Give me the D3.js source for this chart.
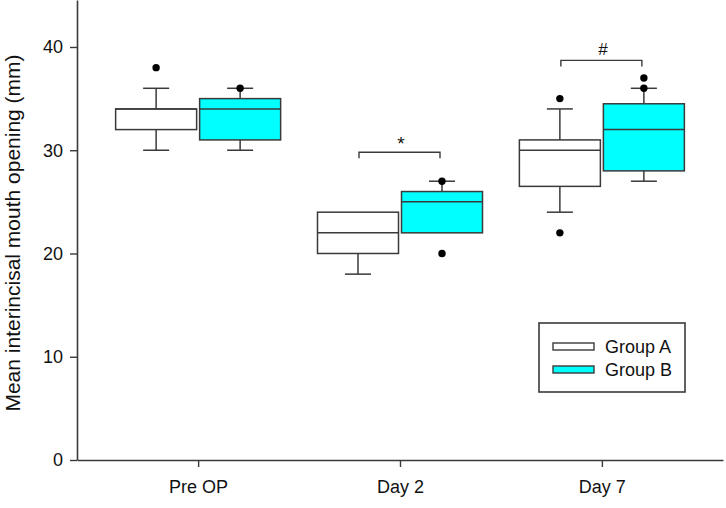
<!DOCTYPE html>
<html>
<head>
<meta charset="utf-8">
<script src="https://cdn.jsdelivr.net/npm/d3@7"></script>
<style>
  body { margin: 0; background: #fff; }
  svg { display: block; font-family: Arial, "Liberation Sans", sans-serif; }
</style>
</head>
<body>
<div id="chart"></div>
<script>
// data
var categories = ["Pre OP", "Day 2", "Day 7"];
var groups = ["Group A", "Group B"];
var groupColors = ["#ffffff", "#00ffff"];
var yTicks = [0, 10, 20, 30, 40];

// per category: [whisker low, q1, median, q3, whisker high]
var groupA = [[30, 32, 34, 34, 36], [18, 20, 22, 24, 24], [24, 26.5, 30, 31, 34]];
var groupB = [[30, 31, 34, 35, 36], [22, 22, 25, 26, 27], [27, 28, 32, 34.5, 36]];
var outliersA = [[38], [], [22, 35]];
var outliersB = [[36], [20, 27], [36, 37]];

// significance brackets
var sigCategory = ["Day 2", "Day 7"];
var sigLevel = [29.8, 38.7];
var sigMark = ["*", "#"];

var svgWidth = 726, svgHeight = 508;
var margin = { top: 0, right: 3, bottom: 48, left: 77 };
var width = svgWidth - margin.left - margin.right;
var height = svgHeight - margin.top - margin.bottom;
var ink = "#3a3a3a";

var svg = d3.select("#chart").append("svg")
  .attr("width", svgWidth)
  .attr("height", svgHeight);

var g = svg.append("g")
  .attr("transform", `translate(${margin.left}, ${margin.top})`);

var xScale = d3.scalePoint()
  .domain(categories)
  .range([0, width])
  .padding(0.6);

var yScale = d3.scaleLinear()
  .domain([0, 44.55])
  .range([height, 0]);

// axes
var xAxis = g.append("g")
  .attr("transform", `translate(0, ${height})`)
  .call(d3.axisBottom(xScale).tickSize(7).tickSizeOuter(0).tickPadding(13));

var yAxis = g.append("g")
  .call(d3.axisLeft(yScale).tickValues(yTicks).tickSize(7).tickSizeOuter(0).tickPadding(7));

[xAxis, yAxis].forEach(function(ax) {
  ax.select(".domain").attr("stroke", ink).attr("stroke-width", 1.6);
  ax.selectAll(".tick line").attr("stroke", ink).attr("stroke-width", 1.4);
  ax.selectAll(".tick text").attr("fill", "#111").attr("font-size", "18px")
    .attr("font-family", "Arial, 'Liberation Sans', sans-serif");
});

// y axis title
svg.append("text")
  .attr("transform", `translate(20, ${margin.top + height / 2 + 3}) rotate(-90)`)
  .attr("text-anchor", "middle")
  .attr("font-size", "21px")
  .attr("fill", "#111")
  .text("Mean interincisal mouth opening (mm)");

// boxes
var boxW = 81, offset = 42, capHalf = 13;
var boxData = [];
categories.forEach(function(c, i) {
  boxData.push({ cat: c, grp: 0, s: groupA[i], out: outliersA[i] });
  boxData.push({ cat: c, grp: 1, s: groupB[i], out: outliersB[i] });
});

var boxes = g.selectAll(".box")
  .data(boxData)
  .enter()
  .append("g")
  .attr("class", "box")
  .attr("transform", d => `translate(${xScale(d.cat) + (d.grp === 0 ? -offset : offset)}, 0)`);

// whiskers
boxes.append("line")
  .attr("x1", 0).attr("x2", 0)
  .attr("y1", d => yScale(d.s[4])).attr("y2", d => yScale(d.s[3]))
  .attr("stroke", ink).attr("stroke-width", 1.5);
boxes.append("line")
  .attr("x1", 0).attr("x2", 0)
  .attr("y1", d => yScale(d.s[1])).attr("y2", d => yScale(d.s[0]))
  .attr("stroke", ink).attr("stroke-width", 1.5);
boxes.filter(d => d.s[4] > d.s[3]).append("line")
  .attr("x1", -capHalf).attr("x2", capHalf)
  .attr("y1", d => yScale(d.s[4])).attr("y2", d => yScale(d.s[4]))
  .attr("stroke", ink).attr("stroke-width", 1.5);
boxes.filter(d => d.s[0] < d.s[1]).append("line")
  .attr("x1", -capHalf).attr("x2", capHalf)
  .attr("y1", d => yScale(d.s[0])).attr("y2", d => yScale(d.s[0]))
  .attr("stroke", ink).attr("stroke-width", 1.5);

// box body
boxes.append("rect")
  .attr("x", -boxW / 2)
  .attr("width", boxW)
  .attr("y", d => yScale(d.s[3]))
  .attr("height", d => yScale(d.s[1]) - yScale(d.s[3]))
  .attr("fill", d => groupColors[d.grp])
  .attr("stroke", ink).attr("stroke-width", 1.5);

// median
boxes.append("line")
  .attr("x1", -boxW / 2).attr("x2", boxW / 2)
  .attr("y1", d => yScale(d.s[2])).attr("y2", d => yScale(d.s[2]))
  .attr("stroke", ink).attr("stroke-width", 1.5);

// outliers
boxes.selectAll("circle")
  .data(d => d.out)
  .enter()
  .append("circle")
  .attr("cx", 0)
  .attr("cy", d => yScale(d))
  .attr("r", 3.7)
  .attr("fill", "#000");

// significance brackets
sigCategory.forEach(function(c, i) {
  var x1 = xScale(c) - offset + 1, x2 = xScale(c) + offset - 2;
  var yb = yScale(sigLevel[i]);
  g.append("path")
    .attr("d", `M${x1},${yb + 6}V${yb}H${x2}V${yb + 6}`)
    .attr("fill", "none")
    .attr("stroke", ink).attr("stroke-width", 1.4);
  g.append("text")
    .attr("x", xScale(c) + 1)
    .attr("y", yb - (sigMark[i] === "*" ? 2 : 5))
    .attr("text-anchor", "middle")
    .attr("font-size", sigMark[i] === "*" ? "19px" : "17px")
    .attr("fill", "#111")
    .text(sigMark[i]);
});

// legend
var legend = svg.append("g").attr("transform", "translate(539, 323)");
legend.append("rect")
  .attr("width", 146).attr("height", 69)
  .attr("fill", "#fff")
  .attr("stroke", ink).attr("stroke-width", 1.6);
groups.forEach(function(name, i) {
  var row = legend.append("g").attr("transform", `translate(0, ${20 + i * 23})`);
  row.append("rect")
    .attr("x", 14).attr("y", 0)
    .attr("width", 41).attr("height", 7)
    .attr("fill", groupColors[i])
    .attr("stroke", ink).attr("stroke-width", 1.4);
  row.append("text")
    .attr("x", 66).attr("y", 10)
    .attr("font-size", "18px")
    .attr("fill", "#111")
    .text(name);
});
</script>
</body>
</html>
